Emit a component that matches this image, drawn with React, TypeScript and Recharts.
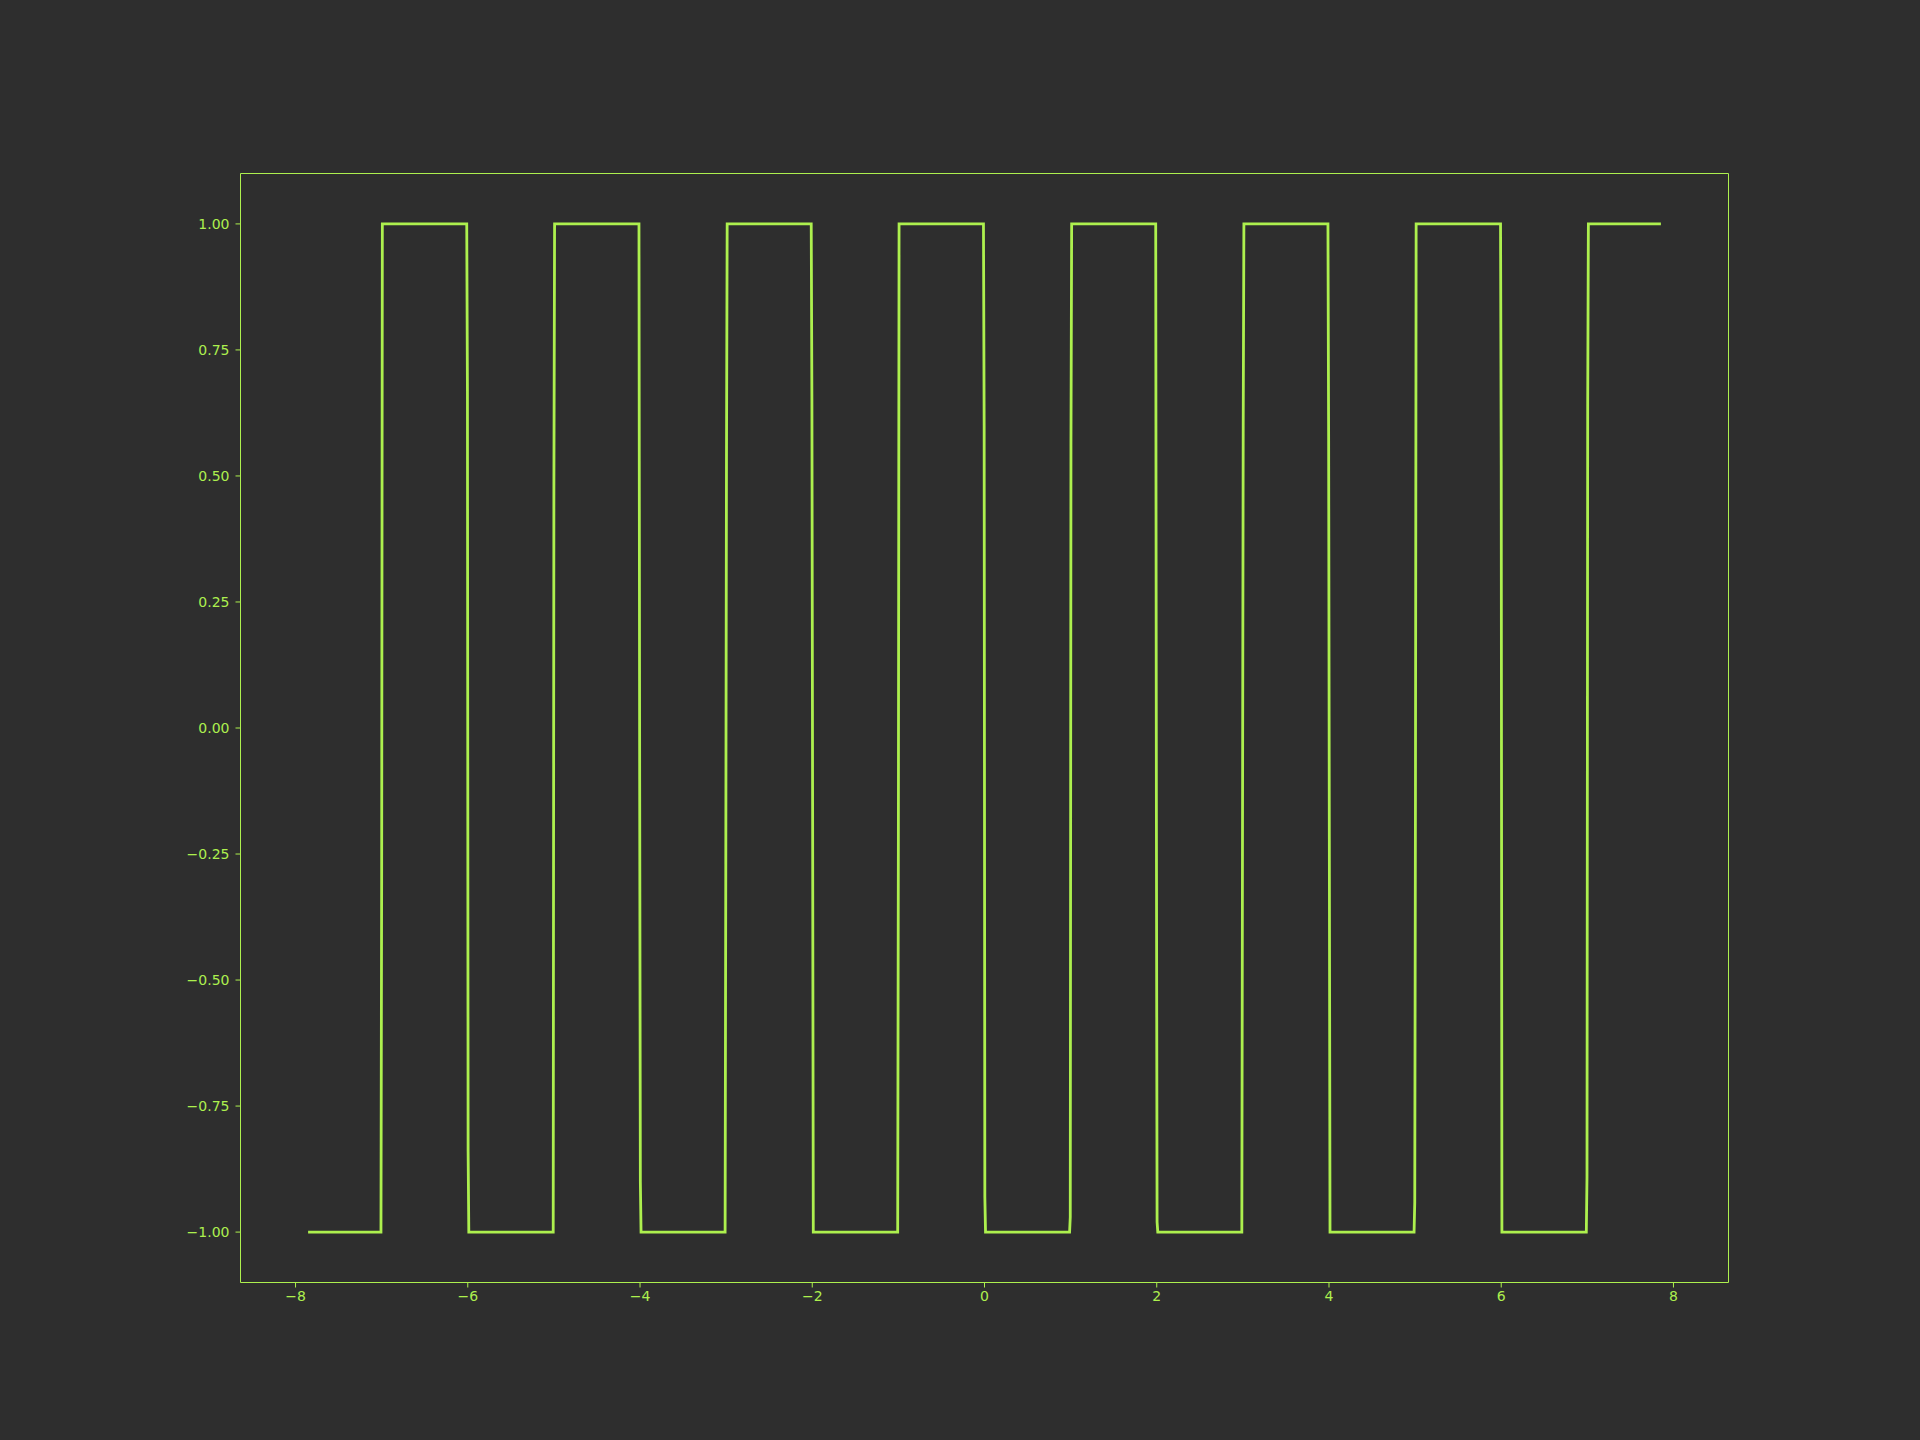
import { Line, LineChart, ReferenceLine, XAxis, YAxis } from "recharts";

const BG = "#2e2e2e";
const FG = "#adf04e";

// data range of the square wave (-2.5π .. 2.5π)
const xStart = -7.854;
const xEnd = 7.854;
const startLevel = -1;

const edgeX = [-7, -6, -5, -4, -3, -2, -1, 0, 1, 2, 3, 4, 5, 6, 7];
const edgeMid: number[][] = [
  [-0.3],
  [0.67, -0.84],
  [0.48],
  [-0.1, -0.9],
  [-0.27, 0.53],
  [0.65, -0.15],
  [-0.22],
  [0.6, -0.93],
  [-0.97, 0.56],
  [-0.18, -0.98],
  [-0.19, 0.6],
  [0.57, -0.22],
  [-0.94, -0.14],
  [0.52],
  [-0.89, 0.64],
];

const xTicks = [-8, -6, -4, -2, 0, 2, 4, 6, 8];
const yTicks = [-1, -0.75, -0.5, -0.25, 0, 0.25, 0.5, 0.75, 1];

const X_DOMAIN: [number, number] = [-8.639, 8.639];
const Y_DOMAIN: [number, number] = [-1.1, 1.1];
const STEP = 0.008;

function buildPoints() {
  const pts: { x: number; y: number }[] = [{ x: xStart, y: startLevel }];
  let level = startLevel;
  edgeX.forEach((k, i) => {
    const next = -level;
    const vals = [level, ...edgeMid[i], next];
    const n = vals.length;
    vals.forEach((v, j) => {
      pts.push({ x: k + (j - (n - 1) / 2) * STEP, y: v });
    });
    level = next;
  });
  pts.push({ x: xEnd, y: level });
  return pts;
}

const data = buildPoints();

const fmt = (v: number) => {
  const s = v.toFixed(2);
  return s.startsWith("-") ? "\u2212" + s.slice(1) : s;
};
const fmtX = (v: number) => (v < 0 ? "\u2212" + Math.abs(v) : String(v));

const tickStyle = { fill: FG, fontSize: 14, fontFamily: "DejaVu Sans" };

export default function App() {
  return (
    <div
      style={{
        position: "absolute",
        left: 0,
        top: 0,
        width: 1920,
        height: 1440,
        background: BG,
      }}
    >
      <LineChart
        width={1920}
        height={1440}
        data={data}
        margin={{ left: 160.5, right: 191.5, top: 173.5, bottom: 117.5 }}
      >
        <XAxis
          type="number"
          dataKey="x"
          domain={X_DOMAIN}
          ticks={xTicks}
          tickFormatter={fmtX}
          allowDataOverflow
          stroke={FG}
          tick={tickStyle}
          tickLine={{ stroke: FG }}
          tickSize={5}
          tickMargin={4}
          height={40}
        />
        <YAxis
          type="number"
          domain={Y_DOMAIN}
          ticks={yTicks}
          tickFormatter={fmt}
          allowDataOverflow
          stroke={FG}
          tick={tickStyle}
          tickLine={{ stroke: FG }}
          tickSize={5}
          tickMargin={6}
          width={80}
        />
        {/* top and right spines */}
        <ReferenceLine y={Y_DOMAIN[1]} stroke={FG} strokeWidth={1} ifOverflow="visible" />
        <ReferenceLine x={X_DOMAIN[1]} stroke={FG} strokeWidth={1} ifOverflow="visible" />
        <Line
          type="linear"
          dataKey="y"
          stroke={FG}
          strokeWidth={2.8}
          dot={false}
          isAnimationActive={false}
        />
      </LineChart>
    </div>
  );
}
